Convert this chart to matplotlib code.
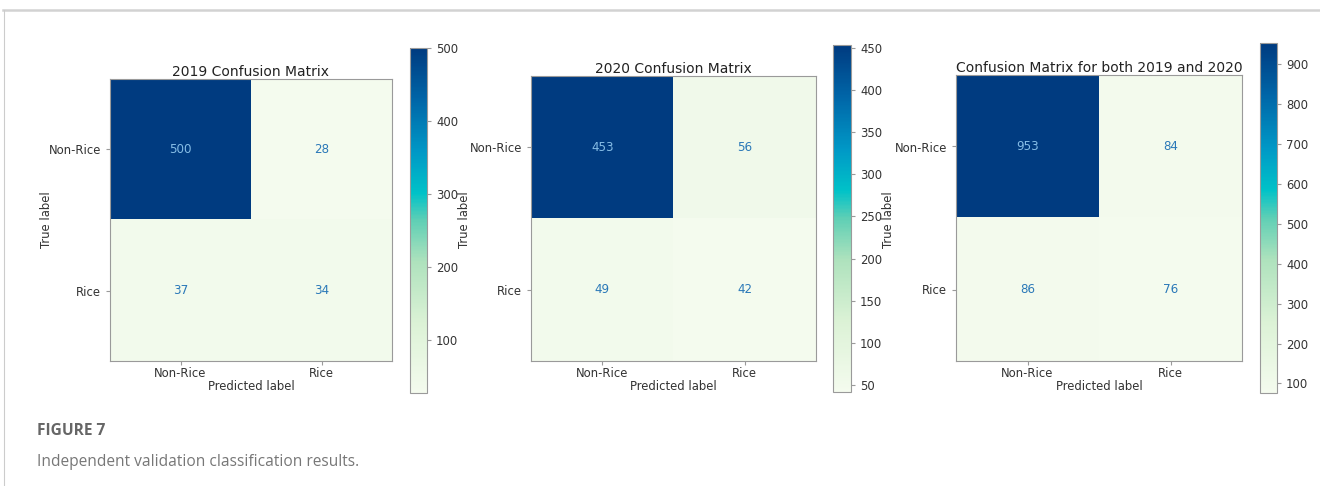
import numpy as np
import matplotlib
matplotlib.use("Agg")
import matplotlib.pyplot as plt
from matplotlib.colors import LinearSegmentedColormap
from matplotlib.lines import Line2D

# ---- data ----
classes = ["Non-Rice", "Rice"]
titles = ["2019 Confusion Matrix", "2020 Confusion Matrix",
          "Confusion Matrix for both 2019 and 2020"]
cm_2019 = [[500, 28], [37, 34]]
cm_2020 = [[453, 56], [49, 42]]
cm_both = [[953, 84], [86, 76]]
cbar_ticks_2019 = [100, 200, 300, 400, 500]
cbar_ticks_2020 = [50, 100, 150, 200, 250, 300, 350, 400, 450]
cbar_ticks_both = [100, 200, 300, 400, 500, 600, 700, 800, 900]
caption_head = "FIGURE 7"
caption_text = "Independent validation classification results."

W, H = 1320, 486
fig = plt.figure(figsize=(W / 100, H / 100), dpi=100)

cmap = LinearSegmentedColormap.from_list("gnbu_sat", [
    (0.00, "#f4fbee"),
    (0.20, "#dcf2d6"),
    (0.38, "#aee2bd"),
    (0.50, "#5fcfb5"),
    (0.58, "#00c2c8"),
    (0.70, "#0098c6"),
    (0.85, "#0066a8"),
    (1.00, "#003b80"),
])

def px(x0, y0, x1, y1):
    return [x0 / W, 1 - y1 / H, (x1 - x0) / W, (y1 - y0) / H]

panels = [
    (cm_2019, titles[0], cbar_ticks_2019, px(110, 79, 392, 361), px(410, 48, 427, 393), 46),
    (cm_2020, titles[1], cbar_ticks_2020, px(531, 76, 816, 361), px(833, 45, 851, 392), 465),
    (cm_both, titles[2], cbar_ticks_both, px(956, 75, 1242, 361), px(1260, 43, 1277, 393), 889),
]

tick_col = "#333333"
edge_col = "#9a9a9a"
fs = 8.4

for cm, title, cticks, apos, cpos, ylab_x in panels:
    cm = np.array(cm)
    ax = fig.add_axes(apos)
    im = ax.imshow(cm, cmap=cmap, vmin=cm.min(), vmax=cm.max(), aspect="auto",
                   interpolation="nearest")
    thresh = (cm.max() + cm.min()) / 2
    for i in range(2):
        for j in range(2):
            col = "#86bde6" if cm[i, j] > thresh else "#2a78b8"
            ax.text(j, i, str(cm[i, j]), ha="center", va="center",
                    fontsize=8.6, color=col)
    ax.set_xticks(range(2))
    ax.set_yticks(range(2))
    ax.set_xticklabels(classes)
    ax.set_yticklabels(classes)
    ax.tick_params(labelsize=fs, colors=edge_col, labelcolor=tick_col, length=3)
    ax.tick_params(axis="x", pad=1.5)
    ax.set_xlabel("Predicted label", fontsize=fs, color=tick_col, labelpad=0)
    ax.set_title(title, fontsize=10, color="#222222", pad=2)
    for s in ax.spines.values():
        s.set_color(edge_col)
    fig.text(ylab_x / W, 1 - 220 / H, "True label", rotation=90, fontsize=fs,
             color=tick_col, ha="center", va="center")

    cax = fig.add_axes(cpos)
    cb = fig.colorbar(im, cax=cax)
    cb.set_ticks(cticks)
    cb.ax.tick_params(labelsize=fs, colors=edge_col, labelcolor=tick_col, length=3)
    cb.outline.set_edgecolor(edge_col)

# frame lines
fig.add_artist(Line2D([3 / W, 1], [1 - 10 / H, 1 - 10 / H], color="#d2d2d2",
                      lw=1.8, transform=fig.transFigure))
fig.add_artist(Line2D([3.5 / W, 3.5 / W], [0, 1 - 10 / H], color="#cccccc",
                      lw=0.8, transform=fig.transFigure))

fig.text(37 / W, 1 - 431 / H, caption_head, fontsize=11.2, fontweight="bold",
         color="#666666", ha="left", va="center", family="Open Sans")
fig.text(37 / W, 1 - 462 / H, caption_text, fontsize=11.2,
         color="#777777", ha="left", va="center", family="Open Sans")

fig.savefig("out.png", dpi=100)
